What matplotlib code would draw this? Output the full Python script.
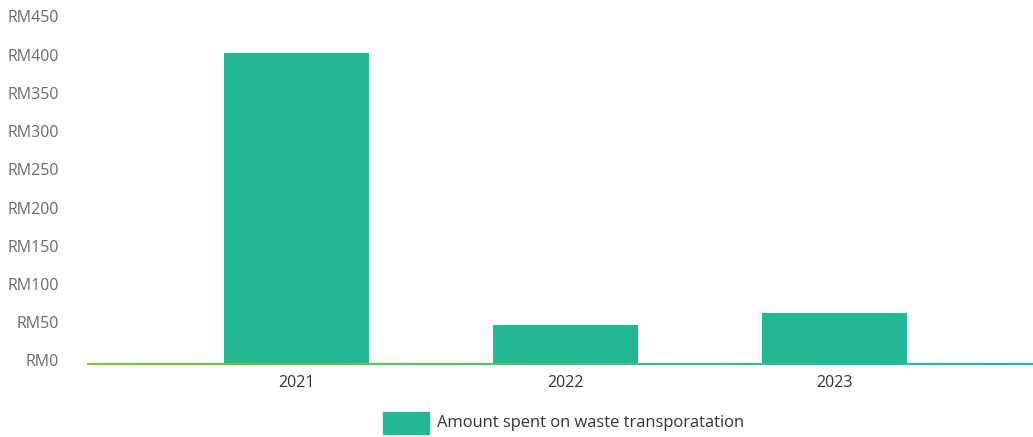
import matplotlib
matplotlib.use("Agg")
import matplotlib.pyplot as plt
import matplotlib.transforms as mtransforms
import numpy as np
from matplotlib.collections import LineCollection
from matplotlib.patches import Rectangle

years = ["2021", "2022", "2023"]
amounts = [407, 51, 67]
yticks = [0, 50, 100, 150, 200, 250, 300, 350, 400, 450]
ytick_labels = ["RM" + str(v) for v in yticks]
series_name = "Amount spent on waste transporatation"

plt.rcParams['font.family'] = ['Open Sans', 'DejaVu Sans']

fig = plt.figure(figsize=(10.33, 4.37), dpi=100)
W, H = 1033, 437
left, right = 87, 1033
bottom, top = 364, 20
ax = fig.add_axes([left / W, 1 - bottom / H, (right - left) / W, (bottom - top) / H])

x = np.arange(len(years))
ax.bar(x, amounts, width=0.54, color="#22b895", zorder=2)
ax.set_xlim(-0.78, 2.74)
ax.set_ylim(0, 450)
ax.set_yticks(yticks)
ax.set_yticklabels(ytick_labels, color="#6b6b6b", fontsize=11.5)
ax.set_xticks(x)
ax.set_xticklabels(years, color="#333333", fontsize=11.5)
ax.tick_params(axis="both", length=0)
ax.tick_params(axis="y", pad=20)
ax.tick_params(axis="x", pad=8)
offset = mtransforms.ScaledTranslation(0, 0.035, fig.dpi_scale_trans)
for lab in ax.get_yticklabels():
    lab.set_transform(lab.get_transform() + offset)
for s in ax.spines.values():
    s.set_visible(False)

# gradient baseline
xs = np.linspace(-0.78, 2.74, 200)
segs = [[(xs[i], 0), (xs[i + 1], 0)] for i in range(len(xs) - 1)]
cmap = matplotlib.colors.LinearSegmentedColormap.from_list("g", ["#7dc242", "#1fb8a8"])
lc = LineCollection(segs, colors=cmap(np.linspace(0, 1, len(segs))), linewidths=1.6, zorder=3, clip_on=False)
ax.add_collection(lc)

# legend
fig.patches.append(Rectangle((383 / W, 1 - 434 / H), 46 / W, 22 / H, transform=fig.transFigure,
                             color="#22b895", figure=fig))
fig.text(437 / W, 1 - 423 / H, series_name, va="center", ha="left", color="#333333", fontsize=11.9)

fig.savefig("out.png", dpi=100)
